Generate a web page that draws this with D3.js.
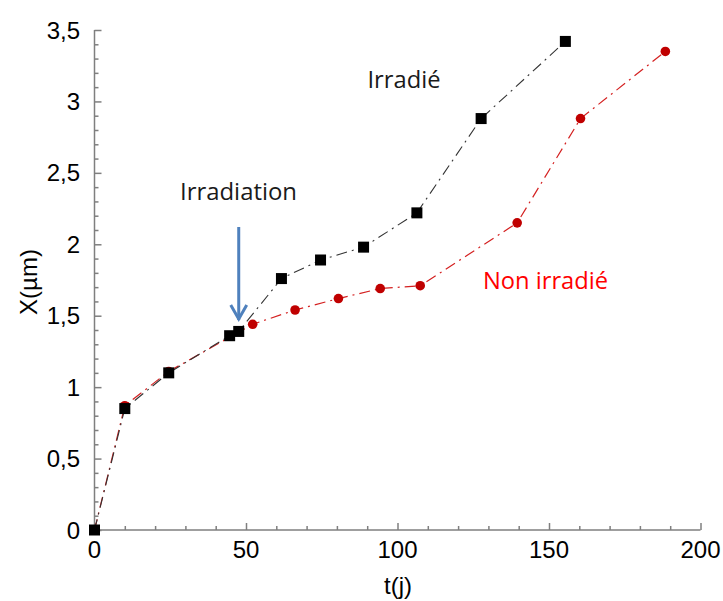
<!DOCTYPE html>
<html><head><meta charset="utf-8">
<script src="https://cdn.jsdelivr.net/npm/d3@7"></script>
<style>body{margin:0;background:#fff}svg{display:block}</style>
</head><body>
<svg id="c" width="723" height="601"></svg>
<script>
// Data
const irrT = [0, 10, 24.5, 44.6, 47.6, 61.7, 74.6, 88.8, 106.4, 127.6, 155.4];
const irrX = [0, 0.85, 1.10, 1.36, 1.39, 1.76, 1.89, 1.98, 2.22, 2.88, 3.42];
const nonT = [0, 10, 24.5, 52.2, 66.2, 80.5, 94.3, 107.5, 139.5, 160.4, 188.4];
const nonX = [0, 0.87, 1.11, 1.44, 1.54, 1.62, 1.69, 1.71, 2.15, 2.88, 3.35];
const xTicks = [0, 50, 100, 150, 200];
const yTicks = [0, 0.5, 1, 1.5, 2, 2.5, 3, 3.5];
const xLabel = "t(j)";
const yLabel = "X(µm)";

const svg = d3.select("#c");
const x = d3.scaleLinear().domain([0, 200]).range([94.5, 700.5]);
const y = d3.scaleLinear().domain([0, 3.5]).range([530, 30]);
const fmt = d => String(d).replace(".", ",");
const axisCol = "#7f7f7f";

// axes (ticks inward)
const gx = svg.append("g").attr("transform", "translate(0,530)");
gx.call(d3.axisTop(x).tickValues(d3.range(0, 201, 10)).tickSize(4).tickFormat(""));
gx.call(g => g.selectAll(".tick line").filter(d => d % 50 === 0).attr("y2", -7));
gx.selectAll("path,line").attr("stroke", axisCol).attr("stroke-width", 1.5);
gx.select("path").attr("d", `M${x(0)},0H${x(200)}`);

const gy = svg.append("g").attr("transform", "translate(94.5,0)");
gy.call(d3.axisRight(y).tickValues(d3.range(0, 36).map(i => i / 10)).tickSize(4).tickFormat(""));
gy.call(g => g.selectAll(".tick line").filter(d => Math.abs(d * 2 - Math.round(d * 2)) < 1e-6).attr("x2", 7));
gy.selectAll("path,line").attr("stroke", axisCol).attr("stroke-width", 1.5);
gy.select("path").attr("d", `M0,${y(0)}V${y(3.5)}`);

const lblFont = "'Liberation Sans', Arial, sans-serif";
svg.append("g").selectAll("text").data(xTicks).join("text")
  .attr("x", d => x(d)).attr("y", 558).attr("text-anchor", "middle")
  .attr("font-family", lblFont).attr("font-size", 24).attr("fill", "#000")
  .text(d => fmt(d));
svg.append("g").selectAll("text").data(yTicks).join("text")
  .attr("x", 80).attr("y", d => y(d) + 8.5).attr("text-anchor", "end")
  .attr("font-family", lblFont).attr("font-size", 24).attr("fill", "#000")
  .text(d => fmt(d));

svg.append("text").attr("x", 398).attr("y", 594).attr("text-anchor", "middle")
  .attr("font-family", lblFont).attr("font-size", 24).text(xLabel);
svg.append("text").attr("transform", "translate(37,282) rotate(-90)").attr("text-anchor", "middle")
  .attr("font-family", lblFont).attr("font-size", 24).text(yLabel);

// series
const irr = irrT.map((t, i) => [t, irrX[i]]);
const non = nonT.map((t, i) => [t, nonX[i]]);
const line = d3.line().x(d => x(d[0])).y(d => y(d[1]));

svg.append("path").datum(non).attr("d", line).attr("fill", "none")
  .attr("stroke", "#d42020").attr("stroke-width", 1.2).attr("stroke-dasharray", "11,5,2,5");
svg.append("g").selectAll("circle").data(non).join("circle")
  .attr("cx", d => x(d[0])).attr("cy", d => y(d[1])).attr("r", 4.8).attr("fill", "#c00000");

svg.append("path").datum(irr).attr("d", line).attr("fill", "none")
  .attr("stroke", "#333").attr("stroke-width", 1.1).attr("stroke-dasharray", "11,5,2,5");
svg.append("g").selectAll("rect").data(irr).join("rect")
  .attr("x", d => x(d[0]) - 5.5).attr("y", d => y(d[1]) - 5.5).attr("width", 11).attr("height", 11).attr("fill", "#000");

// annotations
const annFont = "'Open Sans', 'Noto Sans', sans-serif";
svg.append("text").attr("x", 404).attr("y", 88).attr("text-anchor", "middle")
  .attr("font-family", annFont).attr("font-size", 24).attr("fill", "#1a1a1a")
  .attr("textLength", 73).attr("lengthAdjust", "spacingAndGlyphs").text("Irradié");
svg.append("text").attr("x", 238.5).attr("y", 200).attr("text-anchor", "middle")
  .attr("font-family", annFont).attr("font-size", 24).attr("fill", "#1a1a1a")
  .attr("textLength", 117).attr("lengthAdjust", "spacingAndGlyphs").text("Irradiation");
svg.append("text").attr("x", 545.5).attr("y", 289).attr("text-anchor", "middle")
  .attr("font-family", annFont).attr("font-size", 24).attr("fill", "#ff0000")
  .attr("textLength", 125).attr("lengthAdjust", "spacingAndGlyphs").text("Non irradié");

// arrow
const ax = x(47.6);
svg.append("line").attr("x1", ax).attr("x2", ax).attr("y1", 227).attr("y2", 320)
  .attr("stroke", "#4f81bd").attr("stroke-width", 3);
svg.append("path").attr("d", `M${ax - 8},305L${ax},319L${ax + 8},305`).attr("fill", "none")
  .attr("stroke", "#4f81bd").attr("stroke-width", 3).attr("stroke-linejoin", "miter");
</script>
</body></html>
